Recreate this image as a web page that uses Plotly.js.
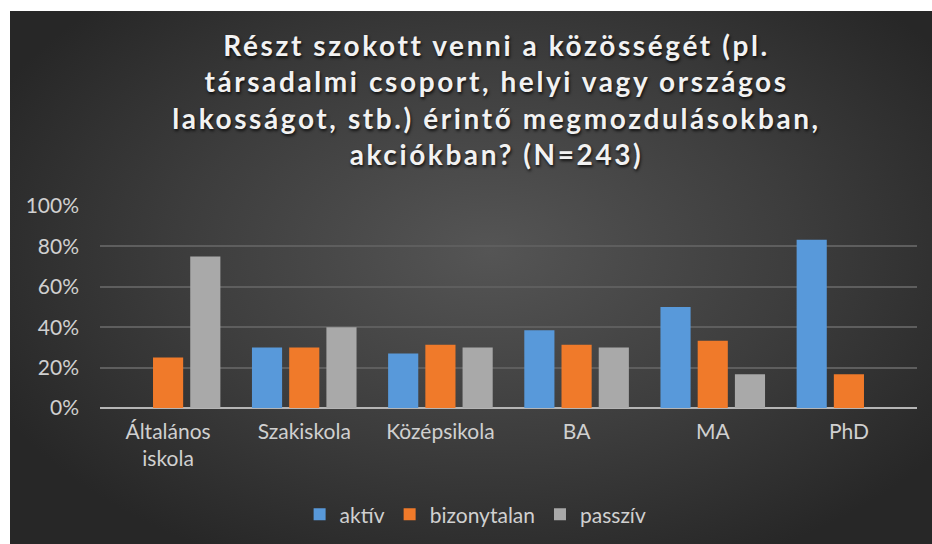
<!DOCTYPE html>
<html>
<head>
<meta charset="utf-8">
<script src="https://cdn.plot.ly/plotly-3.0.1.min.js"></script>
<style>
  html, body { margin: 0; padding: 0; background: #ffffff; width: 932px; height: 544px; overflow: hidden; }
  #chart {
    position: absolute; left: 10px; top: 11px; width: 922px; height: 533px;
    background: radial-gradient(ellipse 60% 65% at 52% 45%, #555555 0%, #3d3d3d 55%, #272727 100%);
  }
  #chart .gtitle { letter-spacing: 2.6px; }
</style>
</head>
<body>
<div id="chart"></div>
<script>
const categories = ['Általános<br>iskola', 'Szakiskola', 'Középsikola', 'BA', 'MA', 'PhD'];
const aktiv = [0, 0.30, 0.27, 0.385, 0.50, 0.833];
const bizonytalan = [0.25, 0.30, 0.313, 0.313, 0.333, 0.167];
const passziv = [0.75, 0.40, 0.30, 0.30, 0.167, 0];
const seriesNames = ['aktív', 'bizonytalan', 'passzív'];
const seriesColors = ['#5899da', '#f07a2a', '#a9a9a9'];
const yTickVals = [0, 0.2, 0.4, 0.6, 0.8, 1.0];
const yTickText = ['0%', '20%', '40%', '60%', '80%', '100%'];

const seriesData = [aktiv, bizonytalan, passziv];
const traces = seriesData.map((vals, i) => ({
  type: 'bar',
  name: seriesNames[i],
  x: categories,
  y: vals,
  marker: { color: seriesColors[i], line: { width: 0 } },
  hoverinfo: 'x+y+name'
}));

const layout = {
  width: 922,
  height: 533,
  paper_bgcolor: 'rgba(0,0,0,0)',
  plot_bgcolor: 'rgba(0,0,0,0)',
  margin: { l: 90, r: 15, t: 195, b: 136, pad: 0 },
  font: { family: 'Lato, "Open Sans", sans-serif', color: '#d0d0d0', size: 21 },
  title: {
    text: 'Részt szokott venni a közösségét (pl.<br>társadalmi csoport, helyi vagy országos<br>lakosságot, stb.) érintő megmozdulásokban,<br>akciókban? (N=243)',
    font: { family: 'Lato, "Open Sans", sans-serif', size: 28, color: '#f2f2f2', weight: 'bold',
            shadow: '1px 2px 3px rgba(0,0,0,0.75)' },
    xref: 'container', x: 0.5277, xanchor: 'center',
    yref: 'container', y: 0.916, yanchor: 'middle'
  },
  barmode: 'group',
  bargap: 0.18,
  bargroupgap: 0.19,
  xaxis: {
    type: 'category',
    showgrid: false,
    showline: false,
    ticks: '',
    ticklabelstandoff: 9,
    tickfont: { size: 21, color: '#d0d0d0' },
    zeroline: false
  },
  yaxis: {
    range: [0, 1.0],
    tickvals: yTickVals,
    ticktext: yTickText,
    showgrid: true,
    gridcolor: '#5e5e5e',
    gridwidth: 1.5,
    zeroline: true,
    zerolinecolor: '#b5b5b5',
    zerolinewidth: 2,
    showline: false,
    ticks: '',
    ticklabelstandoff: 20,
    tickfont: { size: 21, color: '#d0d0d0' },
    fixedrange: true
  },
  showlegend: true,
  legend: {
    orientation: 'h',
    xref: 'container', x: 0.505, xanchor: 'center',
    yref: 'container', y: 0.055, yanchor: 'middle',
    font: { size: 21, color: '#d0d0d0' },
    bgcolor: 'rgba(0,0,0,0)',
    itemwidth: 30,
    traceorder: 'normal'
  }
};

Plotly.newPlot('chart', traces, layout, { displayModeBar: false, staticPlot: false }).then(() => {
  document.querySelectorAll('#chart .gtitle').forEach(e => { e.style.letterSpacing = '2.6px'; });
});
</script>
</body>
</html>
